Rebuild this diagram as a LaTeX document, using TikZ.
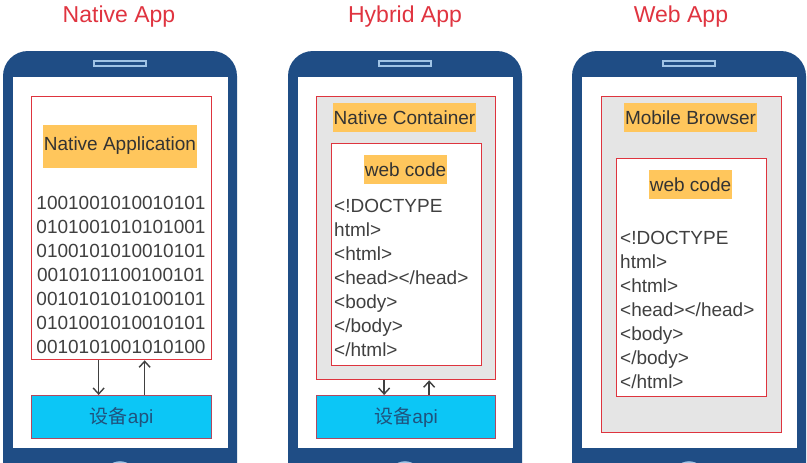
\documentclass[tikz,border=0pt]{standalone}
\usepackage{fontspec}
\setmainfont{Liberation Sans}
\newfontfamily\cjk{Noto Sans CJK SC}
\usetikzlibrary{arrows.meta}
\definecolor{phoneblue}{RGB}{31,77,133}
\definecolor{slotblue}{RGB}{160,196,230}
\definecolor{boxred}{RGB}{222,52,62}
\definecolor{labelorange}{RGB}{255,198,92}
\definecolor{apicyan}{RGB}{12,198,246}
\definecolor{apiedge}{RGB}{176,72,96}
\definecolor{titlered}{RGB}{224,52,64}
\definecolor{codegray}{RGB}{64,64,64}
\definecolor{screengray}{RGB}{229,229,229}
\definecolor{apitext}{RGB}{32,82,125}
\begin{document}
\begin{tikzpicture}[x=1pt,y=-1pt,
	every node/.style={inner sep=0pt},
	title/.style={text=titlered,font=\fontsize{23}{26}\selectfont,anchor=base},
	redbox/.style={draw=boxred,line width=1.3pt,anchor=north west},
	tag/.style={fill=labelorange,text=black!80,font=\fontsize{19}{24}\selectfont,inner xsep=1pt},
	code/.style={text=codegray,font=\fontsize{19}{24}\selectfont,align=left},
	api/.style={draw=apiedge,fill=apicyan,line width=1.3pt,anchor=north west,
		minimum width=180,minimum height=43,text=apitext,font=\fontsize{19}{24}\selectfont},
	link/.style={draw=codegray,line width=1.4pt,-{Straight Barb[length=6pt,width=11pt]}}]
\clip (0,0) rectangle (807,463);
\fill[white] (0,0) rectangle (807,463);

% the three phones
\foreach \cx in {120,405,689}{
	\fill[phoneblue,rounded corners=25] (\cx-117,51) rectangle (\cx+117,520);
	\fill[white] (\cx-107,77) rectangle (\cx+108,448);
	\draw[slotblue,fill=phoneblue,line width=1.2pt] (\cx-26,61) rectangle (\cx+26,66);
	\draw[slotblue,line width=1.5pt] (\cx,478) circle (16);
}

\node[title] (natitle) at (119,23) {Native App};
\node[title] (hytitle) at (405,23) {Hybrid App};
\node[title] (webtitle) at (681,23) {Web App};

% native app
\node[redbox,minimum width=180,minimum height=263] (nat) at (31,96) {};
\node[tag,minimum width=154,minimum height=43] (natlbl) at (120,146) {Native Application};
\node[code,align=center,anchor=north] (bin) at (121,196) {1001001010010101\\0101001010101001\\0100101010010101\\0010101100100101\\0010101010100101\\0101001010010101\\0010101001010100};
\node[api] (api1) at (31,395) {{\cjk 设备}api};
\draw[link] ([xshift=-23]nat.south) -- ([xshift=-23]api1.north);
\draw[link] ([xshift=23]api1.north) -- ([xshift=23]nat.south);

% hybrid app
\node[redbox,fill=screengray,minimum width=179,minimum height=283] (cont) at (316,96) {};
\node[tag,minimum height=29] (contlbl) at (404.5,117.5) {Native Container};
\node[redbox,fill=white,minimum width=150,minimum height=222] (web2) at (331,143) {};
\node[tag,minimum height=29] (web2lbl) at (405.5,169.5) {web code};
\node[code,anchor=north west] (html2) at (334,199) {<!DOCTYPE\\html>\\<html>\\<head></head>\\<body>\\</body>\\</html>};
\node[api,minimum width=179] (api2) at (316,395) {{\cjk 设备}api};
\draw[link] ([xshift=-22]cont.south) -- ([xshift=-22]api2.north);
\draw[link] ([xshift=23]api2.north) -- ([xshift=23]cont.south);

% web app
\node[redbox,fill=screengray,minimum width=180,minimum height=336] (brow) at (601,96) {};
\node[tag,minimum height=29] (browlbl) at (690.5,117.5) {Mobile Browser};
\node[redbox,fill=white,minimum width=150,minimum height=238] (web3) at (616,158) {};
\node[tag,minimum height=29] (web3lbl) at (690.5,184.5) {web code};
\node[code,anchor=north west] (html3) at (620,231) {<!DOCTYPE\\html>\\<html>\\<head></head>\\<body>\\</body>\\</html>};
\end{tikzpicture}
\end{document}
